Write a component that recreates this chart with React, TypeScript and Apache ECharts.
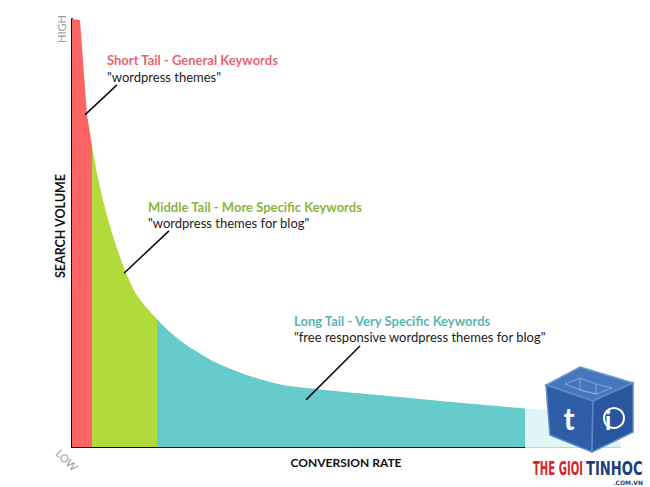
import React, { useEffect, useRef } from "react";
import * as echarts from "echarts";

// Data in chart units: x = conversion rate (0-100), y = search volume (0-100)
const shortTail: number[][] = [
  [0, 100], [1.46, 99.77], [2.1, 88.67], [2.74, 77.57], [3.65, 70.33],
];
const middleTail: number[][] = [
  [3.65, 70.33], [4.74, 62.85], [6.02, 55.84], [7.48, 49.3], [9.49, 41.82],
  [11.5, 36.21], [13.5, 32.71], [15.51, 29.91],
];
const longTail: number[][] = [
  [15.51, 29.91], [17.88, 26.87], [20.62, 24.07], [23.36, 21.85], [26.46, 19.63],
  [32.48, 16.59], [38.5, 14.49], [44.71, 13.55], [50.73, 12.73], [59.85, 11.68],
  [67.15, 10.75], [74.45, 9.93], [82.66, 9.0], [100, 7.71],
];
// pointer lines from labels to the areas
const shortPointer: number[][] = [[2.37, 77.6], [8.21, 84.6]];
const middlePointer: number[][] = [[9.49, 40.6], [17.7, 50.5]];
const longPointer: number[][] = [[42.7, 11.0], [52.55, 23.6]];

const labels = {
  shortTitle: "Short Tail - General Keywords",
  shortQuote: '"wordpress themes"',
  middleTitle: "Middle Tail - More Specific Keywords",
  middleQuote: '"wordpress themes for blog"',
  longTitle: "Long Tail - Very Specific Keywords",
  longQuote: '"free responsive wordpress themes for blog"',
  yName: "SEARCH VOLUME",
  xName: "CONVERSION RATE",
  high: "HIGH",
  low: "LOW",
};

const FONT = "Lato, 'Open Sans', sans-serif";
const LOGO_FONT = "bold 20px 'DejaVu Sans Condensed', 'DejaVu Sans', sans-serif";

function areaSeries(name: string, data: number[][], color: string, pointer: number[][], smooth: number | boolean) {
  return {
    name,
    type: "line",
    data,
    smooth,
    showSymbol: false,
    symbol: "none",
    lineStyle: { width: 0, color },
    areaStyle: { color, opacity: 1 },
    silent: true,
    markLine: {
      silent: true,
      symbol: ["none", "none"],
      label: { show: false },
      lineStyle: { color: "#111", width: 1.6, type: "solid" },
      data: [[{ coord: pointer[0] }, { coord: pointer[1] }]],
    },
  };
}

export default function App() {
  const ref = useRef<HTMLDivElement>(null);
  useEffect(() => {
    if (!ref.current) return;
    const chart = echarts.init(ref.current, null, { renderer: "svg" });
    const txt = (text: string, x: number, y: number, fill: string, bold: boolean, size = 13) => ({
      type: "text",
      x,
      y,
      z: 20,
      style: {
        text,
        fill,
        font: `${bold ? "bold " : ""}${size}px ${FONT}`,
        textAlign: "left",
        textVerticalAlign: "middle",
      },
    });
    chart.setOption({
      animation: false,
      backgroundColor: "#fff",
      grid: { left: 72, right: 30, top: 19, bottom: 40 },
      xAxis: {
        type: "value",
        min: 0,
        max: 100,
        name: labels.xName,
        nameLocation: "middle",
        nameGap: 9,
        nameTextStyle: { fontFamily: FONT, fontWeight: "bold", fontSize: 12, color: "#111" },
        axisLine: { show: true, lineStyle: { color: "#111", width: 2 } },
        axisTick: { show: false },
        axisLabel: { show: false },
        splitLine: { show: false },
      },
      yAxis: {
        type: "value",
        min: 0,
        max: 100,
        axisLine: { show: true, lineStyle: { color: "#111", width: 2 } },
        axisTick: { show: false },
        axisLabel: { show: false },
        splitLine: { show: false },
      },
      series: [
        areaSeries("Short Tail", shortTail, "#fd6464", shortPointer, false),
        areaSeries("Middle Tail", middleTail, "#b1db3b", middlePointer, 0.3),
        areaSeries("Long Tail", longTail, "#66cccb", longPointer, 0.3),
      ],
      graphic: [
        txt(labels.shortTitle, 107, 60, "#ea6570", true),
        txt(labels.shortQuote, 107, 77, "#222", false),
        txt(labels.middleTitle, 148, 207, "#8db53e", true),
        txt(labels.middleQuote, 148, 223, "#222", false),
        txt(labels.longTitle, 294, 321, "#5ab6b4", true),
        txt(labels.longQuote, 294, 337, "#222", false),
        {
          type: "text",
          x: 60,
          y: 226,
          rotation: Math.PI / 2,
          style: { text: labels.yName, fill: "#111", font: `bold 12.5px ${FONT}`, textAlign: "center", textVerticalAlign: "middle" },
        },
        {
          type: "text",
          x: 61,
          y: 29,
          rotation: Math.PI / 2,
          style: { text: labels.high, fill: "#9a9a9a", font: `11px ${FONT}`, textAlign: "center", textVerticalAlign: "middle" },
        },
        {
          type: "text",
          x: 67,
          y: 460,
          rotation: -Math.PI / 4,
          style: { text: labels.low, fill: "#9a9a9a", font: `11px ${FONT}`, textAlign: "center", textVerticalAlign: "middle" },
        },
        // faded overlay behind the watermark
        { type: "rect", z: 30, shape: { x: 525, y: 355, width: 125, height: 132 }, style: { fill: "rgba(255,255,255,0.8)" } },
        // watermark cube
        {
          type: "group",
          z: 40,
          children: [
            { type: "polygon", z: 40, shape: { points: [[580, 367], [633, 383], [593, 401], [546, 385]] }, style: { fill: "#4677bd", stroke: "#6d98d4", lineWidth: 1.5 } },
            { type: "polygon", z: 40, shape: { points: [[546, 385], [593, 401], [592, 452], [550, 435]] }, style: { fill: "#2f5ea8", stroke: "#5b88c8", lineWidth: 1.5 } },
            { type: "polygon", z: 40, shape: { points: [[593, 401], [633, 383], [633, 432], [592, 452]] }, style: { fill: "#2a56a0", stroke: "#5b88c8", lineWidth: 1.5 } },
            { type: "polyline", z: 41, shape: { points: [[565, 384], [580, 378], [596, 384], [612, 388], [596, 394], [580, 390], [565, 384]] }, style: { fill: "none", stroke: "#8fb2e0", lineWidth: 0.8 } },
            { type: "polyline", z: 41, shape: { points: [[580, 378], [580, 390], [596, 394], [596, 384]] }, style: { fill: "none", stroke: "#8fb2e0", lineWidth: 0.8 } },
            { type: "text", z: 42, x: 569, y: 418, style: { text: "t", fill: "#fff", font: `bold 30px Lato, sans-serif`, textAlign: "center", textVerticalAlign: "middle" } },
            { type: "circle", z: 42, shape: { cx: 614, cy: 418, r: 10 }, style: { fill: "none", stroke: "#fff", lineWidth: 2 } },
            { type: "text", z: 43, x: 608, y: 420, style: { text: "i", fill: "#fff", font: `bold 26px Lato, sans-serif`, textAlign: "center", textVerticalAlign: "middle" } },
            { type: "text", z: 42, x: 533, y: 468, scaleX: 0.56, style: { text: "THE GIOI", fill: "#d8262c", font: LOGO_FONT, textAlign: "left", textVerticalAlign: "middle" } },
            { type: "text", z: 42, x: 586, y: 468, scaleX: 0.73, style: { text: "TINHOC", fill: "#1d3f7c", font: LOGO_FONT, textAlign: "left", textVerticalAlign: "middle" } },
            { type: "text", z: 42, x: 643, y: 482, style: { text: ".COM.VN", fill: "#1d3f7c", font: "bold 6px 'DejaVu Sans', sans-serif", textAlign: "right", textVerticalAlign: "middle" } },
          ],
        },
      ],
    });
    return () => chart.dispose();
  }, []);
  return <div ref={ref} style={{ width: 650, height: 487, position: "absolute", left: 0, top: 0 }} />;
}
